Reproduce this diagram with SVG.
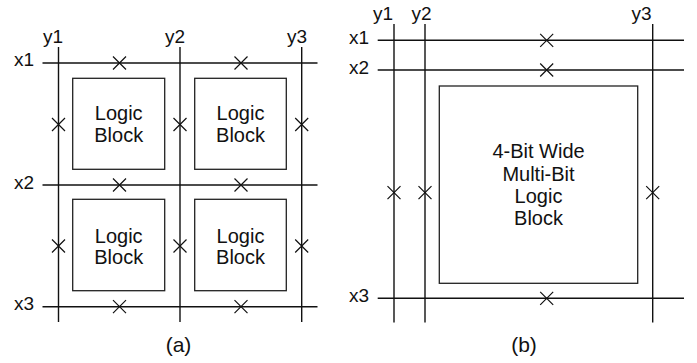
<svg xmlns="http://www.w3.org/2000/svg" width="697" height="363" viewBox="0 0 697 363">
<style>
.w{stroke:#111;stroke-width:1.4;fill:none}
.b{stroke:#222;stroke-width:1.3;fill:#fff}
.x{stroke:#111;stroke-width:1.2;fill:none}
text{font-family:"Liberation Sans",Arial,sans-serif;fill:#111}
.l{font-size:19px}
.t{font-size:20px;text-anchor:middle}
.c{font-size:21px;text-anchor:middle}
</style>
<defs>
<path id="xm" d="M-6.5,-6.5L6.5,6.5M-6.5,6.5L6.5,-6.5" class="x"/>
</defs>
<g id="connectors">
<line class="w" x1="58.5" y1="47" x2="58.5" y2="322"/>
<line class="w" x1="180" y1="47" x2="180" y2="322"/>
<line class="w" x1="301.7" y1="47" x2="301.7" y2="322"/>
<line class="w" x1="42.5" y1="63" x2="317.5" y2="63"/>
<line class="w" x1="42.5" y1="185" x2="317.5" y2="185"/>
<line class="w" x1="42.5" y1="306.7" x2="317.5" y2="306.7"/>
<line class="w" x1="394" y1="24" x2="394" y2="322.5"/>
<line class="w" x1="425" y1="24" x2="425" y2="322.5"/>
<line class="w" x1="652.7" y1="24" x2="652.7" y2="322.5"/>
<line class="w" x1="377.7" y1="40.3" x2="684" y2="40.3"/>
<line class="w" x1="377.7" y1="70" x2="684" y2="70"/>
<line class="w" x1="377.7" y1="298.3" x2="684" y2="298.3"/>
</g>
<g id="switches">
<use href="#xm" x="119.5" y="63"/>
<use href="#xm" x="241" y="63"/>
<use href="#xm" x="119.5" y="185"/>
<use href="#xm" x="241" y="185"/>
<use href="#xm" x="119.5" y="306.7"/>
<use href="#xm" x="241" y="306.7"/>
<use href="#xm" x="58.5" y="124.5"/>
<use href="#xm" x="180" y="124.5"/>
<use href="#xm" x="301.7" y="124.5"/>
<use href="#xm" x="58.5" y="246"/>
<use href="#xm" x="180" y="246"/>
<use href="#xm" x="301.7" y="246"/>
<use href="#xm" x="546.7" y="40.3"/>
<use href="#xm" x="546.7" y="70"/>
<use href="#xm" x="546.7" y="298.3"/>
<use href="#xm" x="394" y="192.7"/>
<use href="#xm" x="425" y="192.7"/>
<use href="#xm" x="652.7" y="192.7"/>
</g>
<g id="labels">
<text class="l" x="43" y="43">y1</text>
<text class="l" x="165" y="43">y2</text>
<text class="l" x="287" y="43">y3</text>
<text class="l" x="14" y="66">x1</text>
<text class="l" x="14" y="189">x2</text>
<text class="l" x="14" y="310">x3</text>
<text class="l" x="373" y="19.5">y1</text>
<text class="l" x="411.5" y="19.5">y2</text>
<text class="l" x="631.5" y="19.5">y3</text>
<text class="l" x="349" y="44">x1</text>
<text class="l" x="349" y="74">x2</text>
<text class="l" x="349" y="302">x3</text>
<text class="c" x="178.5" y="352">(a)</text>
<text class="c" x="524" y="352">(b)</text>
</g>
<g id="blockA1">
<rect class="b" x="72.7" y="78.3" width="92" height="91"/>
<text class="t" x="118.7" y="120">Logic</text>
<text class="t" x="118.7" y="141.7">Block</text>
</g>
<g id="blockA2">
<rect class="b" x="194.7" y="78.3" width="91.6" height="91"/>
<text class="t" x="240.5" y="120">Logic</text>
<text class="t" x="240.5" y="141.7">Block</text>
</g>
<g id="blockA3">
<rect class="b" x="72.7" y="199.3" width="92" height="91.4"/>
<text class="t" x="118.7" y="242.7">Logic</text>
<text class="t" x="118.7" y="264.3">Block</text>
</g>
<g id="blockA4">
<rect class="b" x="194.7" y="199.3" width="91.6" height="91.4"/>
<text class="t" x="240.5" y="242.7">Logic</text>
<text class="t" x="240.5" y="264.3">Block</text>
</g>
<g id="blockB">
<rect class="b" x="439.3" y="86" width="198.4" height="197.3"/>
<text class="t" x="538.5" y="158.3">4-Bit Wide</text>
<text class="t" x="538.5" y="180.5">Multi-Bit</text>
<text class="t" x="538.5" y="203">Logic</text>
<text class="t" x="538.5" y="225">Block</text>
</g>
</svg>
